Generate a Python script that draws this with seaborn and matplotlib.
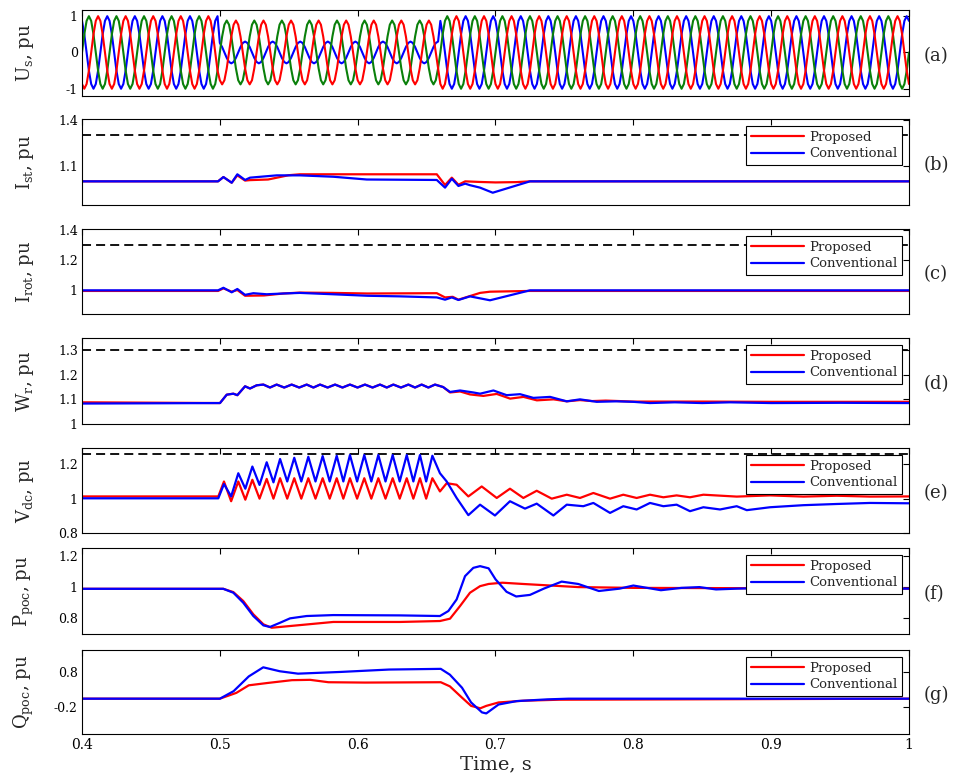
import numpy as np
import pandas as pd
import matplotlib
matplotlib.use("Agg")
import matplotlib.pyplot as plt
import seaborn as sns

# ------------------------------------------------------------------ data
time_ticks = [0.4, 0.5, 0.6, 0.7, 0.8, 0.9, 1.0]
time_ticklabels = ["0.4", "0.5", "0.6", "0.7", "0.8", "0.9", "1"]
series_names = ["Proposed", "Conventional"]
panel_tags = ["(a)", "(b)", "(c)", "(d)", "(e)", "(f)", "(g)"]
panel_ylabels = [r"U$_s$, pu", r"I$_{st}$, pu", r"I$_{rot}$, pu", r"W$_r$, pu",
                 r"V$_{dc}$, pu", r"P$_{poc}$, pu", r"Q$_{poc}$, pu"]
panel_yticks = [[-1, 0, 1], [1.1, 1.4], [1, 1.2, 1.4], [1, 1.1, 1.2, 1.3],
                [0.8, 1, 1.2], [0.8, 1, 1.2], [-0.2, 0.8]]
panel_yticklabels = [["-1", "0", "1"], ["1.1", "1.4"], ["1", "1.2", "1.4"],
                     ["1", "1.1", "1.2", "1.3"], ["0.8", "1", "1.2"],
                     ["0.8", "1", "1.2"], ["-0.2", "0.8"]]
panel_ylims = [(-1.2, 1.17), (0.846, 1.406), (0.843, 1.407), (1.0, 1.349),
               (0.8, 1.295), (0.70, 1.25), (-1.0, 1.45)]
limit_levels = [None, 1.3, 1.3, 1.3, 1.26, None, None]

# (a) stator voltage: one cycle and per-cycle amplitude
us_cycle_shape = [0.0, 0.5, 0.87, 1.0, 0.87, 0.5, 0.0, -0.5, -0.87, -1.0, -0.87, -0.5]
us_samples_per_cycle = 12
us_cycle_period = 0.02
us_start_index = {"A": 4, "B": 8, "C": 0}
us_amp_A = [1, 1, 1, 1, 1, 0.3, 0.3, 0.3, 0.3, 0.3, 0.3, 0.3, 0.3, 1, 1,
            1, 1, 1, 1, 1, 1, 1, 1, 1, 1, 1, 1, 1, 1, 1]
us_amp_B = [1, 1, 1, 1, 1, 0.88, 0.88, 0.88, 0.88, 0.88, 0.88, 0.88, 0.88, 1, 1,
            1, 1, 1, 1, 1, 1, 1, 1, 1, 1, 1, 1, 1, 1, 1]
us_amp_C = [1, 1, 1, 1, 1, 0.88, 0.88, 0.88, 0.88, 0.88, 0.88, 0.88, 0.88, 1, 1,
            1, 1, 1, 1, 1, 1, 1, 1, 1, 1, 1, 1, 1, 1, 1]

# (b) stator current
ist_t_red = [0.4, 0.4987, 0.5026, 0.5086, 0.5127, 0.5183, 0.5219, 0.535, 0.550, 0.558,
             0.6574, 0.6634, 0.6683, 0.6731, 0.678, 0.6888, 0.700, 0.715, 0.725, 1.0]
ist_red = [1.0, 1.0, 1.028, 0.991, 1.039, 1.005, 1.008, 1.012, 1.040, 1.046,
           1.046, 0.976, 1.024, 0.978, 1.000, 0.996, 0.993, 0.995, 1.0, 1.0]
ist_t_blue = [0.4, 0.4987, 0.5026, 0.5086, 0.5127, 0.5183, 0.5219, 0.5413, 0.5582, 0.5824,
              0.6066, 0.6574, 0.6634, 0.6683, 0.6731, 0.678, 0.6815, 0.6888, 0.698, 0.725, 1.0]
ist_blue = [1.0, 1.0, 1.028, 0.991, 1.046, 1.009, 1.024, 1.039, 1.039, 1.030,
            1.012, 1.009, 0.959, 1.017, 0.970, 0.985, 0.975, 0.959, 0.926, 1.0, 1.0]

# (c) rotor current
irot_t_red = [0.4, 0.4987, 0.5026, 0.5086, 0.5127, 0.5183, 0.532, 0.546, 0.558, 0.582,
              0.607, 0.6574, 0.6634, 0.669, 0.6731, 0.6888, 0.696, 0.725, 1.0]
irot_red = [0.996, 0.996, 1.013, 0.991, 1.002, 0.964, 0.966, 0.979, 0.985, 0.983,
            0.979, 0.981, 0.953, 0.957, 0.938, 0.983, 0.991, 0.996, 0.996]
irot_t_blue = [0.4, 0.4987, 0.5026, 0.5086, 0.5127, 0.5183, 0.5243, 0.534, 0.546, 0.558,
               0.582, 0.607, 0.631, 0.6574, 0.6634, 0.6683, 0.6731, 0.6815, 0.696, 0.725, 1.0]
irot_blue = [1.0, 1.0, 1.017, 0.987, 1.009, 0.970, 0.981, 0.974, 0.979, 0.983,
             0.974, 0.964, 0.960, 0.953, 0.938, 0.953, 0.936, 0.960, 0.934, 1.0, 1.0]

# (d) rotor speed
wr_t_rise = [0.5001, 0.505, 0.5098, 0.5127, 0.5183, 0.5219, 0.5267]
wr_rise = [1.085, 1.119, 1.123, 1.117, 1.153, 1.144, 1.157]
wr_t_ripple = [0.5316, 0.5364, 0.5412, 0.5467, 0.5521, 0.5576, 0.5630, 0.5679, 0.5727,
               0.5782, 0.5836, 0.5890, 0.5944, 0.5999, 0.6053, 0.6108, 0.6162, 0.6211,
               0.6259, 0.6314, 0.6368, 0.6416, 0.6464, 0.6513, 0.6561, 0.6620]
wr_ripple = [1.160, 1.148, 1.160, 1.148, 1.160, 1.148, 1.160, 1.148, 1.160,
             1.148, 1.160, 1.148, 1.160, 1.148, 1.160, 1.148, 1.160, 1.148,
             1.160, 1.148, 1.160, 1.148, 1.160, 1.148, 1.160, 1.150]
wr_t_red_tail = [0.667, 0.6743, 0.6815, 0.6912, 0.7009, 0.7106, 0.7203, 0.730, 0.7421,
                 0.7517, 0.7613, 0.77, 0.78, 0.80, 0.85, 0.90, 1.0]
wr_red_tail = [1.128, 1.132, 1.120, 1.114, 1.122, 1.103, 1.110, 1.096, 1.100,
               1.092, 1.097, 1.093, 1.095, 1.091, 1.091, 1.090, 1.090]
wr_t_blue_tail = [0.667, 0.6743, 0.6839, 0.6888, 0.6985, 0.7081, 0.7178, 0.7275, 0.7396,
                  0.7517, 0.7613, 0.7734, 0.7879, 0.80, 0.8121, 0.83, 0.85, 0.87, 0.90,
                  0.95, 1.0]
wr_blue_tail = [1.130, 1.136, 1.128, 1.123, 1.136, 1.117, 1.121, 1.106, 1.110,
                1.092, 1.100, 1.090, 1.092, 1.090, 1.085, 1.088, 1.085, 1.088, 1.085,
                1.086, 1.085]
wr_red_base = 1.088
wr_blue_base = 1.083

# (e) DC-link voltage
vdc_t_osc = [0.4989, 0.5030, 0.5082, 0.5134, 0.5185, 0.5236, 0.5288, 0.5340, 0.5389,
             0.5437, 0.5489, 0.5540, 0.5591, 0.5642, 0.5694, 0.5746, 0.5797, 0.5848,
             0.5896, 0.5944, 0.5996, 0.6048, 0.6099, 0.6150, 0.6202, 0.6254, 0.6305,
             0.6356, 0.6404, 0.6452, 0.6497, 0.6542]
vdc_red_osc = [1.013, 1.100, 0.985, 1.100, 0.994, 1.110, 1.000, 1.115, 1.000,
               1.119, 1.000, 1.119, 1.000, 1.119, 1.000, 1.119, 1.000, 1.119,
               1.000, 1.119, 1.000, 1.119, 1.000, 1.119, 1.000, 1.119, 1.000,
               1.119, 1.000, 1.119, 1.000, 1.119]
vdc_blue_osc = [1.002, 1.085, 1.013, 1.148, 1.058, 1.187, 1.080, 1.212, 1.095,
                1.231, 1.100, 1.238, 1.100, 1.244, 1.100, 1.248, 1.100, 1.250,
                1.100, 1.254, 1.100, 1.254, 1.100, 1.254, 1.100, 1.254, 1.100,
                1.254, 1.100, 1.254, 1.100, 1.250]
vdc_t_red_tail = [0.6597, 0.6646, 0.6718, 0.6803, 0.6900, 0.7009, 0.7105, 0.7202, 0.7299,
                  0.7408, 0.7517, 0.7613, 0.7710, 0.7831, 0.7927, 0.8024, 0.8121, 0.8218,
                  0.8314, 0.8411, 0.8508, 0.875, 0.8992, 0.9234, 0.9476, 0.9717, 1.0]
vdc_red_tail = [1.042, 1.090, 1.081, 1.013, 1.071, 1.004, 1.058, 1.004, 1.046,
                1.000, 1.023, 1.004, 1.033, 1.000, 1.023, 1.004, 1.023, 1.008,
                1.019, 1.008, 1.023, 1.012, 1.019, 1.012, 1.017, 1.012, 1.013]
vdc_t_blue_tail = [0.6597, 0.6646, 0.6718, 0.6803, 0.6888, 0.6996, 0.7105, 0.7214, 0.7299,
                   0.7420, 0.7517, 0.7637, 0.7710, 0.7831, 0.7927, 0.8024, 0.8121, 0.8218,
                   0.8314, 0.8411, 0.8508, 0.8629, 0.8750, 0.8823, 0.8992, 0.9234, 0.9476,
                   0.9717, 1.0]
vdc_blue_tail = [1.148, 1.100, 1.004, 0.904, 0.965, 0.902, 0.985, 0.942, 0.971,
                 0.902, 0.965, 0.956, 0.975, 0.917, 0.956, 0.937, 0.975, 0.956,
                 0.965, 0.927, 0.950, 0.937, 0.956, 0.933, 0.950, 0.962, 0.969,
                 0.975, 0.973]
vdc_red_base = 1.013
vdc_blue_base = 1.002

# (f) active power at PoC
ppoc_t_red = [0.4, 0.5025, 0.5098, 0.517, 0.5243, 0.5316, 0.5376, 0.5582, 0.5823, 0.6307,
              0.6597, 0.667, 0.6743, 0.6815, 0.6888, 0.695, 0.705, 0.72, 0.74, 0.76, 0.8, 1.0]
ppoc_red = [0.989, 0.989, 0.968, 0.911, 0.826, 0.762, 0.740, 0.757, 0.777, 0.777,
            0.783, 0.798, 0.879, 0.964, 1.006, 1.020, 1.028, 1.020, 1.010, 1.000, 0.995, 0.99]
ppoc_t_blue = [0.4, 0.5025, 0.5098, 0.517, 0.5243, 0.5316, 0.5364, 0.5437, 0.5509, 0.563,
               0.5823, 0.6307, 0.6597, 0.6658, 0.6718, 0.6779, 0.6839, 0.6888, 0.695, 0.700,
               0.708, 0.715, 0.725, 0.735, 0.748, 0.760, 0.775, 0.790, 0.800, 0.810, 0.820,
               0.835, 0.848, 0.860, 0.875, 0.90, 1.0]
ppoc_blue = [0.989, 0.989, 0.964, 0.900, 0.815, 0.755, 0.745, 0.772, 0.800, 0.815,
             0.821, 0.819, 0.815, 0.847, 0.921, 1.070, 1.123, 1.134, 1.120, 1.050,
             0.970, 0.940, 0.950, 0.990, 1.035, 1.020, 0.975, 0.990, 1.010, 0.995, 0.980,
             0.995, 1.000, 0.985, 0.990, 0.995, 0.99]

# (g) reactive power at PoC
qpoc_t_red = [0.4, 0.5, 0.512, 0.521, 0.535, 0.5523, 0.5655, 0.5788, 0.6052, 0.6603, 0.6669,
              0.6757, 0.6823, 0.689, 0.6933, 0.7022, 0.72, 0.7463, 1.0]
qpoc_red = [0.03, 0.03, 0.20, 0.42, 0.49, 0.57, 0.58, 0.51, 0.50, 0.51, 0.39,
            0.06, -0.18, -0.25, -0.18, -0.08, -0.03, 0.0, 0.03]
qpoc_t_blue = [0.4, 0.5, 0.510, 0.521, 0.5315, 0.5435, 0.5567, 0.5875, 0.6228, 0.6603,
               0.6669, 0.6757, 0.6823, 0.6902, 0.6933, 0.7022, 0.7154, 0.7375, 0.753, 1.0]
qpoc_blue = [0.03, 0.03, 0.25, 0.68, 0.945, 0.83, 0.76, 0.81, 0.88, 0.90,
             0.73, 0.35, -0.08, -0.37, -0.40, -0.14, -0.04, 0.01, 0.03, 0.03]

# ------------------------------------------------------------------ style
sns.set_theme(style="white")
plt.rcParams["font.family"] = ["DejaVu Serif"]
plt.rcParams["mathtext.fontset"] = "dejavuserif"
plt.rcParams["mathtext.default"] = "regular"
plt.rcParams["axes.edgecolor"] = "black"
plt.rcParams["axes.linewidth"] = 0.8

palette_pc = {"Proposed": "#ff0000", "Conventional": "#0000ff"}
palette_us = {"A": "#0000ff", "C": "#0a800a", "B": "#ff0000"}


def two_series(t_red, v_red, t_blue, v_blue):
    return pd.concat([
        pd.DataFrame({"t": t_red, "v": v_red, "series": series_names[0]}),
        pd.DataFrame({"t": t_blue, "v": v_blue, "series": series_names[1]}),
    ], ignore_index=True)


# build panel (a) table from the read cycle shape and amplitudes
def phase_wave(start, amps):
    n = len(amps) * us_samples_per_cycle + 1
    idx = (np.arange(n) + start) % us_samples_per_cycle
    amp = np.append(np.repeat(amps, us_samples_per_cycle), amps[-1])
    return np.asarray(us_cycle_shape)[idx] * amp


n_a = len(us_amp_A) * us_samples_per_cycle + 1
t_a = 0.4 + np.arange(n_a) * (us_cycle_period / us_samples_per_cycle)
df_a = pd.concat([
    pd.DataFrame({"t": t_a, "v": phase_wave(us_start_index[p], amps), "phase": p})
    for p, amps in (("A", us_amp_A), ("C", us_amp_C), ("B", us_amp_B))
], ignore_index=True)

df_b = two_series(ist_t_red, ist_red, ist_t_blue, ist_blue)
df_c = two_series(irot_t_red, irot_red, irot_t_blue, irot_blue)
df_d = two_series([0.4] + wr_t_rise + wr_t_ripple + wr_t_red_tail,
                  [wr_red_base] + wr_rise + wr_ripple + wr_red_tail,
                  [0.4] + wr_t_rise + wr_t_ripple + wr_t_blue_tail,
                  [wr_blue_base] + wr_rise + wr_ripple + wr_blue_tail)
df_e = two_series([0.4] + vdc_t_osc + vdc_t_red_tail,
                  [vdc_red_base] + vdc_red_osc + vdc_red_tail,
                  [0.4] + vdc_t_osc + vdc_t_blue_tail,
                  [vdc_blue_base] + vdc_blue_osc + vdc_blue_tail)
df_f = two_series(ppoc_t_red, ppoc_red, ppoc_t_blue, ppoc_blue)
df_g = two_series(qpoc_t_red, qpoc_red, qpoc_t_blue, qpoc_blue)
frames = [df_a, df_b, df_c, df_d, df_e, df_f, df_g]

# ------------------------------------------------------------------ figure
fig = plt.figure(figsize=(9.54, 7.75), dpi=100)
W, H = 954.0, 775.0
px_boxes = [(10, 96), (119, 205), (229, 314), (338, 424), (448, 533), (548, 634), (650, 734)]
ax_left, ax_right = 82, 909

for i, (top, bot) in enumerate(px_boxes):
    ax = fig.add_axes([ax_left / W, (H - bot) / H, (ax_right - ax_left) / W, (bot - top) / H])
    df = frames[i]
    if i == 0:
        sns.lineplot(data=df, x="t", y="v", hue="phase", hue_order=["A", "C", "B"],
                     palette=palette_us, estimator=None, sort=False, lw=1.5,
                     legend=False, ax=ax)
    else:
        if limit_levels[i] is not None:
            ax.axhline(limit_levels[i], color="black", lw=1.3, ls=(0, (5, 2.8)), zorder=1)
        sns.lineplot(data=df, x="t", y="v", hue="series", hue_order=series_names,
                     palette=palette_pc, estimator=None, sort=False, lw=1.6,
                     ax=ax)
        handles, labels = ax.get_legend_handles_labels()
        leg = ax.legend(handles, labels, loc="upper right", fontsize=9.5,
                        frameon=True, fancybox=False, framealpha=1, edgecolor="black",
                        borderpad=0.4, labelspacing=0.25, handlelength=4.0,
                        handletextpad=0.4, borderaxespad=0.5)
        leg.get_frame().set_linewidth(0.8)
        leg.set_zorder(5)

    ax.set_xlim(0.4, 1.0)
    ax.set_ylim(*panel_ylims[i])
    ax.set_xticks(time_ticks)
    ax.set_yticks(panel_yticks[i], panel_yticklabels[i])
    ax.tick_params(direction="in", top=True, right=True, length=4, width=0.8,
                   labelsize=9, pad=3, colors="black")
    if i < len(px_boxes) - 1:
        ax.tick_params(labelbottom=False)
        ax.set_xlabel("")
    else:
        ax.set_xticklabels(time_ticklabels)
        ax.tick_params(axis="x", labelsize=10)
        ax.set_xlabel("Time, s", fontsize=14, labelpad=2)
    ax.set_ylabel(panel_ylabels[i], fontsize=13)
    ax.yaxis.set_label_coords(-0.056, 0.5)
    ax.text(1.018, 0.47, panel_tags[i], transform=ax.transAxes, ha="left",
            va="center", fontsize=13)
    for s in ax.spines.values():
        s.set_color("black")
        s.set_linewidth(0.8)
    ax.grid(False)

fig.savefig("out.png", dpi=100)
